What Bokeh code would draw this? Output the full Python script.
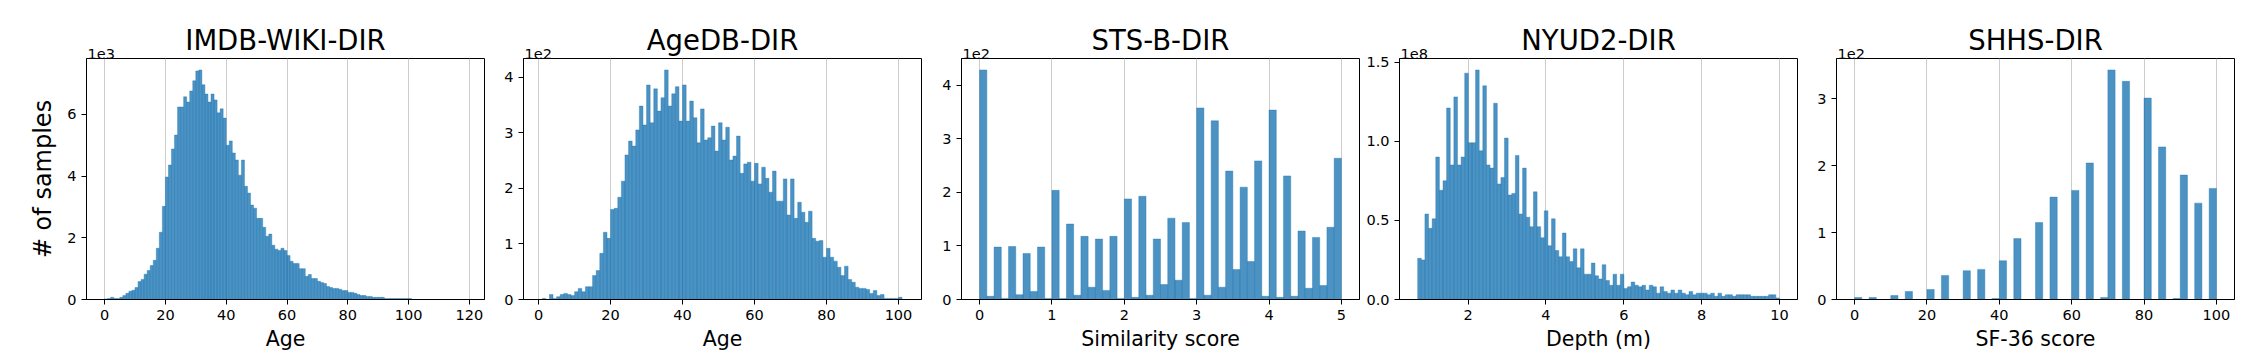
import numpy as np
from bokeh.plotting import figure
from bokeh.models import Title, FixedTicker, Range1d, PrintfTickFormatter
from bokeh.layouts import row
from bokeh.embed import file_html
from bokeh.resources import INLINE

# ---------------- data ----------------
titles = ["IMDB-WIKI-DIR", "AgeDB-DIR", "STS-B-DIR", "NYUD2-DIR", "SHHS-DIR"]
xlabels = ["Age", "Age", "Similarity score", "Depth (m)", "SF-36 score"]
exponents = ["1e3", "1e2", "1e2", "1e8", "1e2"]
ylabel = "# of samples"

# IMDB-WIKI-DIR: counts (x1e3) per age bin, bins start at 0, width 1
imdb_counts = [0.02, 0.03, 0.07, 0.03, 0.03, 0.07, 0.13, 0.2, 0.27, 0.3,
               0.39, 0.58, 0.65, 0.82, 0.94, 1.1, 1.27, 1.66, 2.18, 3.02,
               3.97, 4.36, 4.88, 5.33, 6.24, 6.24, 6.57, 6.4, 6.76, 7.09,
               7.41, 7.44, 6.96, 6.66, 6.4, 6.66, 6.47, 6.05, 6.18, 5.88,
               5.0, 5.14, 4.75, 4.52, 4.03, 4.52, 3.67, 3.45, 3.06, 2.96,
               2.63, 2.63, 2.34, 2.05, 2.12, 1.76, 1.63, 1.59, 1.66, 1.59,
               1.43, 1.24, 1.17, 1.17, 1.0, 1.0, 0.75, 0.81, 0.68, 0.68,
               0.59, 0.55, 0.52, 0.42, 0.39, 0.36, 0.36, 0.33, 0.29, 0.29,
               0.23, 0.23, 0.2, 0.16, 0.13, 0.13, 0.1, 0.1, 0.07, 0.07,
               0.07, 0.07, 0.03, 0.03, 0.03, 0.03, 0.03, 0.03, 0.03, 0.03,
               0.03]
imdb_bin_start, imdb_bin_width = 0, 1

# AgeDB-DIR: counts (x1e2) per age bin, bins start at 1, width 1
agedb_counts = [0.02, 0.0, 0.09, 0.02, 0.05, 0.09, 0.11, 0.09, 0.07, 0.14,
                0.2, 0.14, 0.23, 0.23, 0.43, 0.52, 0.83, 1.21, 1.1, 1.62,
                1.64, 1.84, 2.13, 2.6, 2.85, 2.76, 3.05, 3.48, 3.14, 3.86,
                3.18, 3.79, 3.39, 3.63, 4.13, 3.48, 3.7, 3.83, 3.21, 3.86,
                3.21, 3.57, 3.27, 2.82, 3.43, 2.87, 2.91, 3.12, 2.67, 3.18,
                2.87, 3.1, 2.51, 2.58, 2.94, 2.27, 2.44, 2.47, 2.13, 2.45,
                2.08, 2.38, 2.18, 1.93, 2.31, 1.77, 1.77, 2.17, 1.52, 2.17,
                1.46, 1.75, 1.57, 1.39, 1.59, 1.1, 1.05, 1.06, 0.76, 0.92,
                0.76, 0.69, 0.58, 0.43, 0.6, 0.36, 0.31, 0.22, 0.2, 0.2,
                0.18, 0.11, 0.16, 0.07, 0.09, 0.02, 0.02, 0.02, 0.02, 0.04]
agedb_bin_start, agedb_bin_width = 1, 1

# STS-B-DIR: counts (x1e2), 50 bins of width 0.1 from 0
stsb_counts = [4.29, 0.06, 0.98, 0.02, 0.99, 0.09, 0.86, 0.15, 0.98, 0.02,
               2.04, 0.02, 1.41, 0.08, 1.18, 0.23, 1.13, 0.17, 1.18, 0.02,
               1.88, 0.04, 1.93, 0.08, 1.13, 0.28, 1.52, 0.36, 1.44, 0.02,
               3.58, 0.08, 3.34, 0.23, 2.4, 0.56, 2.1, 0.71, 2.59, 0.06,
               3.54, 0.04, 2.31, 0.06, 1.28, 0.21, 1.16, 0.26, 1.35, 2.64]
stsb_bin_start, stsb_bin_width = 0, 0.1

# NYUD2-DIR: counts (x1e8), 100 bins from 0.707 m to 10 m
nyud_counts = [0.26, 0.25, 0.54, 0.45, 0.51, 0.9, 0.69, 0.75, 1.21, 0.85,
               1.28, 0.85, 0.9, 1.43, 0.99, 0.99, 1.45, 0.94, 1.35, 0.85,
               0.83, 1.24, 0.73, 0.77, 1.02, 0.66, 0.67, 0.91, 0.54, 0.83,
               0.52, 0.46, 0.68, 0.46, 0.39, 0.56, 0.34, 0.51, 0.31, 0.27,
               0.42, 0.27, 0.24, 0.32, 0.2, 0.32, 0.16, 0.16, 0.23, 0.15,
               0.13, 0.22, 0.12, 0.09, 0.16, 0.09, 0.16, 0.07, 0.08, 0.11,
               0.09, 0.08, 0.09, 0.06, 0.09, 0.08, 0.04, 0.08, 0.05, 0.04,
               0.06, 0.04, 0.06, 0.04, 0.03, 0.05, 0.03, 0.04, 0.04, 0.04,
               0.03, 0.04, 0.02, 0.04, 0.02, 0.03, 0.03, 0.02, 0.03, 0.03,
               0.03, 0.03, 0.02, 0.02, 0.02, 0.02, 0.02, 0.03, 0.03, 0.01]
nyud_bin_start, nyud_bin_width = 0.707, 0.0929

# SHHS-DIR: counts (x1e2), 50 bins of width 2 from 0
shhs_counts = [0.03, 0, 0.03, 0, 0, 0.06, 0, 0.12, 0, 0,
               0.15, 0, 0.36, 0, 0, 0.43, 0, 0.45, 0, 0.015,
               0.58, 0, 0.91, 0, 0, 1.15, 0, 1.53, 0, 0,
               1.63, 0, 2.04, 0, 0.03, 3.43, 0, 3.26, 0, 0,
               3.01, 0, 2.28, 0, 0.015, 1.86, 0, 1.44, 0, 1.66]
shhs_bin_start, shhs_bin_width = 0, 2

x_ticks = [[0, 20, 40, 60, 80, 100, 120], [0, 20, 40, 60, 80, 100],
           [0, 1, 2, 3, 4, 5], [2, 4, 6, 8, 10], [0, 20, 40, 60, 80, 100]]
y_ticks = [[0, 2, 4, 6], [0, 1, 2, 3, 4], [0, 1, 2, 3, 4],
           [0, 0.5, 1.0, 1.5], [0, 1, 2, 3]]
y_fmt = ["%d", "%d", "%d", "%.1f", "%d"]
x_ranges = [(-5.95, 124.95), (-4.2, 106.4), (-0.25, 5.25), (0.24, 10.46), (-5.0, 105.0)]

panels = [
    (imdb_counts, imdb_bin_start, imdb_bin_width),
    (agedb_counts, agedb_bin_start, agedb_bin_width),
    (stsb_counts, stsb_bin_start, stsb_bin_width),
    (nyud_counts, nyud_bin_start, nyud_bin_width),
    (shhs_counts, shhs_bin_start, shhs_bin_width),
]

# ---------------- layout / style ----------------
FONT = "DejaVu Sans"
BAR = "#1f77b4"
FRAME_W, FRAME_H = 398, 241
TOP, BOTTOM = 58, 57
borders_lr = [(86, 1), (38, 2), (38, 2), (38, 1), (38, 20)]

figs = []
for i, (counts, b0, bw) in enumerate(panels):
    counts = np.asarray(counts, dtype=float)
    left = b0 + bw * np.arange(len(counts))
    mask = counts > 0
    x0, x1 = x_ranges[i]
    ytop = 1.05 * counts.max()
    bl, br = borders_lr[i]
    p = figure(width=bl + FRAME_W + br, height=TOP + FRAME_H + BOTTOM,
               min_border_left=bl, min_border_right=br,
               min_border_top=TOP, min_border_bottom=BOTTOM,
               x_range=Range1d(x0, x1), y_range=Range1d(0, ytop), title=None,
               output_backend="svg", toolbar_location=None, tools="")
    p.quad(left=left[mask], right=(left + bw)[mask], bottom=0, top=counts[mask],
           fill_color=BAR, fill_alpha=0.8, line_color=BAR, line_alpha=0.8,
           line_width=0.5)

    p.outline_line_color = "black"
    p.outline_line_width = 1
    p.outline_line_alpha = 1
    p.background_fill_color = "white"
    p.border_fill_color = "white"

    p.xgrid.grid_line_color = "#cccccc"
    p.xgrid.grid_line_width = 1
    p.ygrid.grid_line_color = None

    for ax in (p.xaxis, p.yaxis):
        ax.axis_line_color = "black"
        ax.major_tick_in = 0
        ax.major_tick_out = 5
        ax.minor_tick_in = 0
        ax.minor_tick_out = 0
        ax.major_tick_line_color = "black"
        ax.major_label_text_font = FONT
        ax.major_label_text_font_size = "14.5px"
        ax.major_label_text_color = "black"
        ax.major_label_standoff = 5
        ax.axis_label_text_font = FONT
        ax.axis_label_text_font_style = "normal"
        ax.axis_label_text_color = "black"
    p.xaxis.ticker = FixedTicker(ticks=x_ticks[i])
    p.yaxis.ticker = FixedTicker(ticks=y_ticks[i])
    p.xaxis.formatter = PrintfTickFormatter(format="%d")
    p.yaxis.formatter = PrintfTickFormatter(format=y_fmt[i])

    p.xaxis.axis_label = xlabels[i]
    p.xaxis.axis_label_text_font_size = "20.5px"
    p.xaxis.axis_label_standoff = 4
    if i == 0:
        p.yaxis.axis_label = ylabel
        p.yaxis.axis_label_text_font_size = "24px"
        p.yaxis.axis_label_standoff = 7

    # exponent text, closest to the frame
    p.add_layout(Title(text=exponents[i], align="left", offset=1, standoff=0,
                       text_font=FONT, text_font_size="14.5px",
                       text_font_style="normal", text_color="black"), "above")
    # main title, stacked above (pulled down toward the frame)
    p.add_layout(Title(text=titles[i], align="center", standoff=-18,
                       text_font=FONT, text_font_size="27.5px",
                       text_font_style="normal", text_color="black"), "above")
    figs.append(p)

layout = row(*figs)
open("out.html", "w").write(file_html(layout, INLINE))
